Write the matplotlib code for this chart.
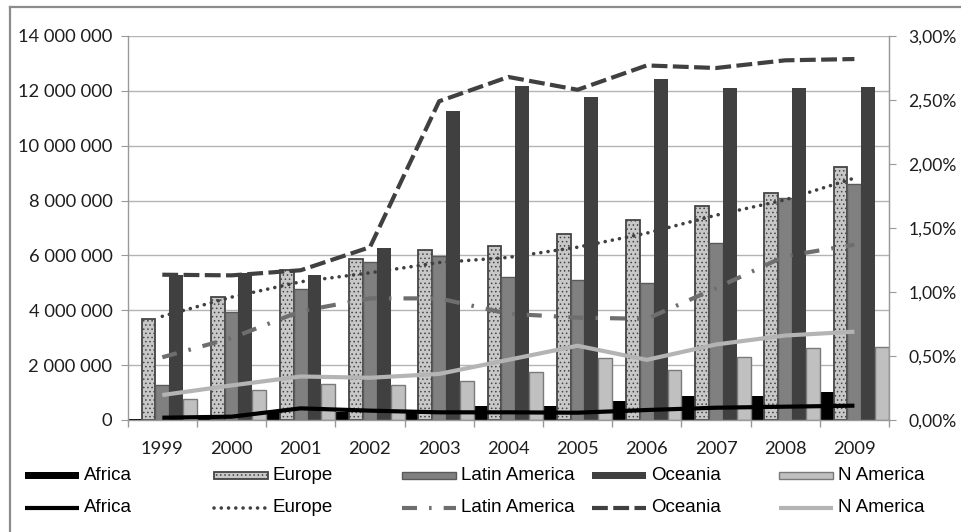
import numpy as np
import matplotlib
matplotlib.use("Agg")
import matplotlib.pyplot as plt
from matplotlib.patches import Rectangle
from matplotlib.lines import Line2D
from matplotlib.ticker import FuncFormatter, MultipleLocator

years = ['1999', '2000', '2001', '2002', '2003', '2004', '2005', '2006', '2007', '2008', '2009']
series = ['Africa', 'Europe', 'Latin America', 'Oceania', 'N America']

# bar values (left axis)
africa_vol = [30000, 50000, 340000, 300000, 340000, 520000, 520000, 680000, 890000, 890000, 1030000]
europe_vol = [3690000, 4470000, 5470000, 5860000, 6200000, 6340000, 6770000, 7290000, 7810000, 8290000, 9210000]
latam_vol = [1260000, 3930000, 4760000, 5770000, 5980000, 5220000, 5100000, 4980000, 6460000, 8080000, 8600000]
oceania_vol = [5290000, 5350000, 5300000, 6260000, 11270000, 12180000, 11790000, 12420000, 12120000, 12120000, 12140000]
namerica_vol = [780000, 1080000, 1300000, 1260000, 1430000, 1760000, 2250000, 1820000, 2310000, 2610000, 2650000]

# line values (right axis, percent)
africa_pct = [0.018, 0.026, 0.091, 0.073, 0.06, 0.06, 0.057, 0.078, 0.096, 0.104, 0.112]
europe_pct = [0.81, 0.96, 1.08, 1.15, 1.23, 1.27, 1.35, 1.46, 1.60, 1.72, 1.89]
latam_pct = [0.49, 0.64, 0.85, 0.95, 0.95, 0.83, 0.80, 0.79, 1.03, 1.28, 1.37]
oceania_pct = [1.135, 1.13, 1.17, 1.35, 2.49, 2.68, 2.58, 2.77, 2.75, 2.81, 2.82]
namerica_pct = [0.195, 0.27, 0.34, 0.33, 0.36, 0.47, 0.58, 0.47, 0.59, 0.66, 0.69]

W, H = 962, 532
plt.rcParams['hatch.color'] = '#505050'
plt.rcParams['hatch.linewidth'] = 0.6

fig = plt.figure(figsize=(W / 100, H / 100), dpi=100)
fig.patch.set_facecolor('white')
ax = fig.add_axes([127.7 / W, 1 - 420 / H, (889 - 127.7) / W, (420 - 36) / H])

bar_styles = [
    dict(color='#000000', edgecolor='#000000', linewidth=0),
    dict(color='#c8c8c8', edgecolor='#454545', linewidth=1.3, hatch='....'),
    dict(color='#808080', edgecolor='#5a5a5a', linewidth=1.0),
    dict(color='#404040', edgecolor='#404040', linewidth=0),
    dict(color='#c0c0c0', edgecolor='#7a7a7a', linewidth=1.0),
]
vols = [africa_vol, europe_vol, latam_vol, oceania_vol, namerica_vol]
x = np.arange(len(years))
bw = 0.2
for i, (vals, st) in enumerate(zip(vols, bar_styles)):
    ax.bar(x + (i - 2) * bw, vals, width=bw, zorder=2, **st)

ax.set_xlim(-0.5, len(years) - 0.5)
ax.set_ylim(0, 14000000)
ax.yaxis.set_major_locator(MultipleLocator(2000000))
ax.yaxis.set_major_formatter(FuncFormatter(lambda v, p: f"{int(v):,}".replace(',', ' ')))
ax.set_axisbelow(True)
ax.grid(axis='y', color='#b4b4b4', linewidth=1.0, zorder=0)
ax.set_xticks(x)
ax.set_xticklabels(years)
ax.set_xticks(np.arange(-0.5, len(years)), minor=True)
ax.tick_params(axis='x', which='major', length=0, pad=15)
ax.tick_params(axis='x', which='minor', length=5, color='#999999', width=1)
ax.tick_params(axis='y', length=5, color='#999999', pad=6)
ax.spines['top'].set_visible(False)
for sp in ['left', 'bottom', 'right']:
    ax.spines[sp].set_color('#999999')
    ax.spines[sp].set_linewidth(1.0)

for lab in ax.get_xticklabels() + ax.get_yticklabels():
    lab.set_fontfamily('Lato'); lab.set_fontsize(13.2); lab.set_color('#1e1e1e')

ax2 = ax.twinx()
ax2.set_ylim(0, 3.0)
ax2.yaxis.set_major_locator(MultipleLocator(0.5))
ax2.yaxis.set_major_formatter(FuncFormatter(lambda v, p: f"{v:.2f}%".replace('.', ',')))
ax2.tick_params(axis='y', length=5, color='#999999', pad=9)
for sp in ['top', 'left', 'bottom']:
    ax2.spines[sp].set_visible(False)
ax2.spines['right'].set_color('#999999')
for lab in ax2.get_yticklabels():
    lab.set_fontfamily('Lato'); lab.set_fontsize(12.6); lab.set_color('#1e1e1e')

line_styles = [
    dict(color='#000000', linewidth=3.0, linestyle='-', solid_capstyle='butt'),
    dict(color='#404040', linewidth=2.6, linestyle=(0, (0.01, 2.0)), dash_capstyle='round'),
    dict(color='#6e6e6e', linewidth=3.0, linestyle=(0, (3.6, 2.9, 0.6, 2.9)), dash_capstyle='butt'),
    dict(color='#404040', linewidth=3.0, linestyle=(0, (3.8, 1.3)), dash_capstyle='butt'),
    dict(color='#b4b4b4', linewidth=3.0, linestyle='-', solid_capstyle='butt'),
]
pcts = [africa_pct, europe_pct, latam_pct, oceania_pct, namerica_pct]
for vals, st in zip(pcts, line_styles):
    ax2.plot(x, vals, zorder=3, **st)

# legend (manual, evenly spaced like the original)
col_x = [25, 214, 402, 592, 779]
row1, row2 = 475.5, 508
hl = 54
leg_font = dict(family='Liberation Sans', size=13.5, color='#000000')
for i, name in enumerate(series):
    x0 = col_x[i]
    st = bar_styles[i]
    hgt = 7.5
    r = Rectangle((x0 / W, 1 - (row1 + hgt / 2) / H), hl / W, hgt / H,
                  transform=fig.transFigure, facecolor=st['color'],
                  edgecolor=st['edgecolor'], linewidth=st['linewidth'],
                  hatch=st.get('hatch'))
    fig.add_artist(r)
    ls = line_styles[i]
    ln = Line2D([x0 / W, (x0 + hl) / W], [1 - row2 / H, 1 - row2 / H],
                transform=fig.transFigure, **ls)
    fig.add_artist(ln)
    fig.text((x0 + hl + 5) / W, 1 - row1 / H, name, va='center', ha='left', **leg_font)
    fig.text((x0 + hl + 5) / W, 1 - row2 / H, name, va='center', ha='left', **leg_font)

# outer chart frame
fig.add_artist(Line2D([10 / W, 10 / W], [1 - 7 / H, 0], transform=fig.transFigure,
                      color='#8c8c8c', linewidth=1.6))
fig.add_artist(Line2D([10 / W, 1], [1 - 7 / H, 1 - 7 / H], transform=fig.transFigure,
                      color='#8c8c8c', linewidth=1.6))

fig.savefig('out.png', dpi=100, facecolor='white')
